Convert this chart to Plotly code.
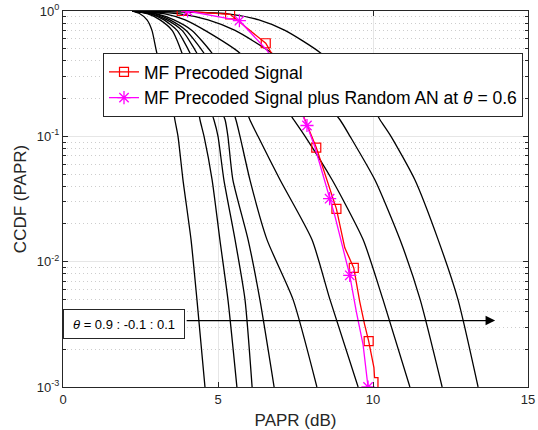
import plotly.graph_objects as go

# CCDF levels at which the black curves were read
ccdf_levels = [1.0, 0.95, 0.85, 0.7, 0.46, 0.185, 0.135, 0.1, 0.045, 0.015, 0.005, 0.001]

# PAPR (dB) of each black curve, theta = 0.9 : -0.1 : 0.1
papr_c1 = [2.23, 2.48, 2.71, 2.87, 3.03, 3.52, 3.61, 3.71, 3.87, 4.13, 4.32, 4.58]
papr_c2 = [2.23, 2.74, 3.13, 3.52, 3.84, 4.32, 4.42, 4.55, 4.81, 5.06, 5.32, 5.61]
papr_c3 = [2.23, 2.81, 3.26, 3.68, 4.10, 4.68, 4.87, 5.00, 5.19, 5.55, 5.87, 6.10]
papr_c4 = [2.23, 2.87, 3.35, 3.84, 4.32, 5.00, 5.23, 5.32, 5.48, 5.97, 6.35, 6.81]
papr_c5 = [2.23, 2.97, 3.45, 3.97, 4.55, 5.39, 5.58, 5.71, 6.03, 6.58, 7.42, 8.19]
papr_c6 = [2.23, 3.03, 3.58, 4.16, 4.81, 5.81, 6.03, 6.29, 7.00, 8.03, 8.61, 9.52]
papr_c7 = [2.23, 3.29, 3.94, 4.58, 5.71, 7.06, 7.45, 7.81, 8.68, 9.68, 10.32, 11.19]
papr_c8 = [2.23, 3.77, 4.68, 5.55, 6.74, 8.48, 8.94, 9.26, 10.06, 10.87, 11.52, 12.23]
papr_c9 = [2.23, 5.32, 6.32, 7.16, 8.32, 9.90, 10.23, 10.58, 11.35, 12.10, 12.74, 13.39]
black_curves = [papr_c1, papr_c2, papr_c3, papr_c4, papr_c5, papr_c6, papr_c7, papr_c8, papr_c9]

# MF precoded signal (red)
mf_papr = [3.83, 5.39, 6.54, 7.06, 7.58, 8.17, 8.82, 9.09, 9.38, 9.57, 9.73, 9.86, 10.03, 10.05, 10.16, 10.16]
mf_ccdf = [1.0, 0.941, 0.553, 0.33, 0.185, 0.0814, 0.0264, 0.0129, 0.00891, 0.00483, 0.00315, 0.00232, 0.00143, 0.00119, 0.00119, 0.001]
mf_marker_idx = [0, 1, 2, 5, 6, 8, 11]

# MF precoded signal plus random AN at theta = 0.6 (magenta)
an_papr = [4.02, 5.69, 6.57, 7.10, 7.58, 7.87, 8.12, 8.60, 8.76, 9.25, 9.46, 9.68, 9.75, 9.84]
an_ccdf = [1.0, 0.837, 0.489, 0.309, 0.1815, 0.122, 0.0829, 0.0318, 0.0237, 0.00778, 0.00402, 0.00218, 0.0016, 0.001]
an_marker_idx = [0, 1, 5, 7, 9, 13]

x_ticks = [0, 5, 10, 15]
y_ticks = [0.001, 0.01, 0.1, 1]
y_ticktext = ["10<sup>-3</sup>", "10<sup>-2</sup>", "10<sup>-1</sup>", "10<sup>0</sup>"]

legend_mf = "MF Precoded Signal"
legend_an = "MF Precoded Signal plus Random AN at <i>θ</i> = 0.6"
theta_text = "<i>θ</i> = 0.9 : -0.1 : 0.1"

RED = "#FF0000"
MAG = "#FF00FF"

fig = go.Figure()

for c in black_curves:
    fig.add_trace(go.Scatter(x=c, y=ccdf_levels, mode="lines",
                             line=dict(color="black", width=1.3, shape="spline", smoothing=0.6),
                             showlegend=False, hoverinfo="skip"))

# red line
fig.add_trace(go.Scatter(x=mf_papr, y=mf_ccdf, mode="lines",
                         line=dict(color=RED, width=1.3), showlegend=False))
fig.add_trace(go.Scatter(x=[mf_papr[i] for i in mf_marker_idx], y=[mf_ccdf[i] for i in mf_marker_idx],
                         mode="markers", marker=dict(symbol="square-open", size=9, color=RED, line=dict(width=1.2)),
                         showlegend=False))
# magenta line
fig.add_trace(go.Scatter(x=an_papr, y=an_ccdf, mode="lines",
                         line=dict(color=MAG, width=1.3), showlegend=False))
fig.add_trace(go.Scatter(x=[an_papr[i] for i in an_marker_idx], y=[an_ccdf[i] for i in an_marker_idx],
                         mode="markers", marker=dict(symbol="asterisk-open", size=11, color=MAG, line=dict(width=1.3, color=MAG)),
                         showlegend=False))
# legend entries
fig.add_trace(go.Scatter(x=[None], y=[None], mode="lines+markers", name=legend_mf,
                         line=dict(color=RED, width=1.3),
                         marker=dict(symbol="square-open", size=9, color=RED, line=dict(width=1.2))))
fig.add_trace(go.Scatter(x=[None], y=[None], mode="lines+markers", name=legend_an,
                         line=dict(color=MAG, width=1.3),
                         marker=dict(symbol="asterisk-open", size=11, color=MAG, line=dict(width=1.3, color=MAG))))

fig.update_layout(
    width=538, height=430,
    margin=dict(l=63, r=10, t=11, b=43),
    plot_bgcolor="white", paper_bgcolor="white",
    font=dict(family="Liberation Sans, Arial, sans-serif", color="#262626", size=12),
    legend=dict(x=(103 - 63) / 465, y=(387 - 53) / 376, xanchor="left", yanchor="top",
                bgcolor="white", bordercolor="#262626", borderwidth=1,
                font=dict(size=17.5, color="black"), tracegroupgap=0),
)

fig.update_xaxes(range=[0, 15], tickvals=x_ticks, ticks="inside", ticklen=5, tickcolor="#262626",
                 showline=True, linecolor="#262626", linewidth=1, mirror="allticks",
                 showgrid=True, gridcolor="#e6e6e6", gridwidth=1, zeroline=False, automargin=False,
                 ticklabeloverflow="allow",
                 tickfont=dict(size=13), title=dict(text="PAPR (dB)", font=dict(size=17)))
fig.update_yaxes(type="log", range=[-3, 0], tickvals=y_ticks, ticktext=y_ticktext,
                 ticks="inside", ticklen=5, tickcolor="#262626",
                 showline=True, linecolor="#262626", linewidth=1, mirror="allticks",
                 showgrid=True, gridcolor="#e6e6e6", gridwidth=1, zeroline=False, automargin=False,
                 ticklabeloverflow="allow",
                 tickfont=dict(size=13),
                 minor=dict(dtick="D1", ticks="inside", ticklen=3, tickcolor="#262626",
                            showgrid=True, gridcolor="#cdcdcd", griddash="1px,3px", gridwidth=1),
                 title=dict(text="CCDF (PAPR)", font=dict(size=17), standoff=5))

# theta annotation box
fig.add_annotation(x=0, y=-2.494, xref="x", yref="y", xanchor="left", yanchor="middle",
                   text=theta_text, showarrow=False, font=dict(size=13, color="black"),
                   bgcolor="white", bordercolor="#262626", borderwidth=1, borderpad=2,
                   width=116, height=24)
# arrow
fig.add_annotation(x=13.94, y=-2.47, ax=3.94, ay=-2.47, xref="x", yref="y", axref="x", ayref="y",
                   text="", showarrow=True, arrowhead=2, arrowsize=1.6, arrowwidth=1.2, arrowcolor="black")

# remove the default page margin so the 538x430 figure fills the window
fig.write_html("out.html", config={"displayModeBar": False},
               post_script="document.body.style.margin='0px';")
